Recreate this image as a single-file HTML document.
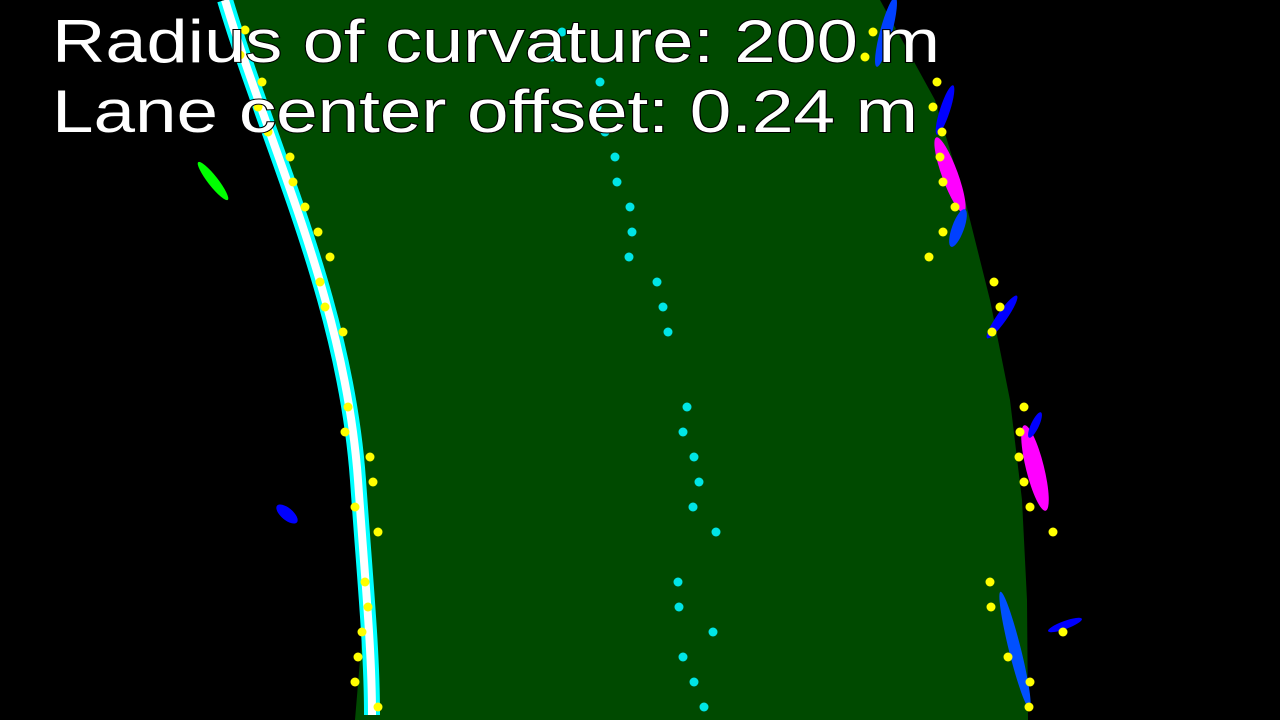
<!DOCTYPE html>
<html><head><meta charset="utf-8"><style>
html,body{margin:0;padding:0;background:#000;width:1280px;height:720px;overflow:hidden}
svg{display:block}
text{font-family:"Liberation Sans",sans-serif;font-size:60px;fill:#fff;stroke:#000;stroke-width:2;paint-order:stroke}
</style></head><body>
<svg id="chart" width="1280" height="720" viewBox="0 0 1280 720">
<rect width="1280" height="720" fill="#000"/>
<g id="lane"></g>
<g id="blobs">
<path d="M225,0 C270,150 345,300 358,480 C365,580 372,650 372,715" stroke="#00ffff" stroke-width="16" fill="none"/>
<path d="M225,0 C270,150 345,300 358,480 C365,580 372,650 372,715" stroke="#fff" stroke-width="8" fill="none"/>
<ellipse cx="213" cy="181" rx="5" ry="24" transform="rotate(-38 213 181)" fill="#00ff00"/>
<ellipse cx="287" cy="514" rx="6" ry="13" transform="rotate(-50 287 514)" fill="#0000ff"/>
<ellipse cx="886" cy="32" rx="6" ry="36" transform="rotate(15 886 32)" fill="#0040ff"/>
<ellipse cx="945" cy="110" rx="5" ry="26" transform="rotate(18 945 110)" fill="#0000ff"/>
<ellipse cx="950" cy="175" rx="8" ry="40" transform="rotate(-20 950 175)" fill="#ff00ff"/>
<ellipse cx="958" cy="228" rx="6" ry="20" transform="rotate(20 958 228)" fill="#0040ff"/>
<ellipse cx="1002" cy="317" rx="5" ry="26" transform="rotate(35 1002 317)" fill="#0000ff"/>
<ellipse cx="1035" cy="468" rx="9" ry="44" transform="rotate(-14 1035 468)" fill="#ff00ff"/>
<ellipse cx="1035" cy="425" rx="4" ry="14" transform="rotate(25 1035 425)" fill="#0000ff"/>
<ellipse cx="1015" cy="650" rx="6" ry="60" transform="rotate(-14 1015 650)" fill="#0050ff"/>
<ellipse cx="1065" cy="625" rx="4" ry="18" transform="rotate(70 1065 625)" fill="#0000ff"/>
</g>
<g id="dots"></g>
<text x="52" y="62" textLength="888" lengthAdjust="spacingAndGlyphs">Radius of curvature: 200 m</text>
<text x="52" y="132" textLength="866" lengthAdjust="spacingAndGlyphs">Lane center offset: 0.24 m</text>
</svg>
<script>
const rowsY=[0,100,200,300,400,500,600,720];
const leftEdge=[228,265,300,325,345,358,365,355];
const rightEdge=[880,935,965,990,1010,1022,1027,1028];
const leftDotsX=[245,240,262,258,268,290,293,305,318,330,320,325,343,348,345,370,373,355,378,365,368,362,358,355,378];
const leftDotsY=[30,55,82,107,132,157,182,207,232,257,282,307,332,407,432,457,482,507,532,582,607,632,657,682,707];
const rightDotsX=[873,865,937,933,942,940,943,955,943,929,994,1000,992,1024,1020,1019,1024,1030,1053,990,991,1063,1008,1030,1029];
const rightDotsY=[32,57,82,107,132,157,182,207,232,257,282,307,332,407,432,457,482,507,532,582,607,632,657,682,707];
const midDotsX=[562,552,600,597,605,615,617,630,632,629,657,663,668,687,683,694,699,693,716,678,679,713,683,694,704];
const midDotsY=[32,57,82,107,132,157,182,207,232,257,282,307,332,407,432,457,482,507,532,582,607,632,657,682,707];
const NS="http://www.w3.org/2000/svg";
const lane=document.getElementById('lane');
let pts=rowsY.map((y,i)=>leftEdge[i]+','+y);
for(let i=rowsY.length-1;i>=0;i--)pts.push(rightEdge[i]+','+rowsY[i]);
const poly=document.createElementNS(NS,'polygon');
poly.setAttribute('points',pts.join(' '));
poly.setAttribute('fill','#004a00');


lane.appendChild(poly);
const dots=document.getElementById('dots');
function addDots(xs,ys,color,name){
  for(let i=0;i<xs.length;i++){
    const c=document.createElementNS(NS,'circle');
    c.setAttribute('cx',xs[i]);c.setAttribute('cy',ys[i]);c.setAttribute('r',4.5);c.setAttribute('fill',color);
    
    
    dots.appendChild(c);
  }
}
addDots(leftDotsX,leftDotsY,'#ffff00','left-fit-point');
addDots(rightDotsX,rightDotsY,'#ffff00','right-fit-point');
addDots(midDotsX,midDotsY,'#00e5e5','center-point');
</script>
</body></html>
